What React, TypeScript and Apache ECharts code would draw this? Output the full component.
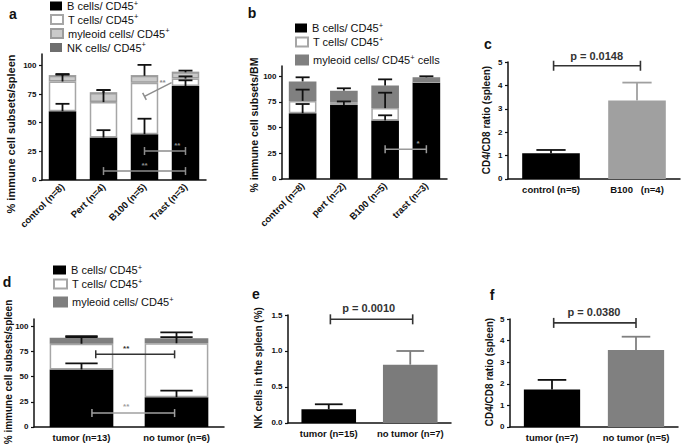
import React, { useEffect, useRef } from 'react';
import * as echarts from 'echarts';

const FONT = '"Liberation Sans", Arial, Helvetica, sans-serif';

// ---------- Panel a: spleen subsets (stacked) ----------
const aCats = ['control (n=8)', 'Pert (n=4)', 'B100 (n=5)', 'Trast (n=3)'];
const aB = [60, 37, 40, 82];
const aT = [26, 31, 45, 6.5];
const aMy = [5, 8, 6, 5.5];
const aNK = [0.5, 0.5, 0.5, 0.5];
const aErrB = [6.5, 6.5, 13.5, 5];
const aErrT = [6.5, 10.5, 0, 2];
const aErrMy = [1, 2.5, 9.5, 1.5];
const aTicks = [0, 25, 50, 75, 100];

// ---------- Panel b: BM subsets (stacked) ----------
const bCats = ['control (n=8)', 'pert (n=2)', 'B100 (n=5)', 'trast (n=3)'];
const bB = [64, 72, 57, 94];
const bT = [12, 2.5, 12, 0.5];
const bMy = [19, 11.5, 22, 4.5];
const bErrB = [9, 3.5, 5, 0];
const bErrT = [11, 0, 15, 0];
const bErrMy = [4, 2.3, 6, 1];
const bTicks = [0, 25, 50, 75, 100];

// ---------- Panel c: CD4/CD8 ratio ----------
const cCats = ['control (n=5)', 'B100   (n=4)'];
const cVals = [1.1, 3.35];
const cErr = [0.14, 0.77];
const cTicks = [0, 1, 2, 3, 4, 5];

// ---------- Panel d: tumor vs no tumor subsets (stacked) ----------
const dCats = ['tumor (n=13)', 'no tumor (n=6)'];
const dB = [57, 29.5];
const dT = [25.5, 53.5];
const dMy = [6, 5];
const dErrB = [6, 6.5];
const dErrT = [6.5, 6];
const dErrMy = [1.5, 5.8];
const dTicks = [0, 25, 50, 75, 100];

// ---------- Panel e: NK cells ----------
const eCats = ['tumor (n=15)', 'no tumor (n=7)'];
const eVals = [0.19, 0.81];
const eErr = [0.07, 0.19];
const eTicks = [0, 0.5, 1, 1.5];

// ---------- Panel f: CD4/CD8 ratio tumor ----------
const fCats = ['tumor (n=7)', 'no tumor (n=5)'];
const fVals = [1.73, 3.56];
const fErr = [0.45, 0.62];
const fTicks = [0, 1, 2, 3, 4, 5];

// significance annotations [x1, y1, x2, y2, textX, textY] (x in category units)
const aSig = [
  { pts: [1, 7.8, 3, 7.8, 2, 13], text: '**' },
  { pts: [2, 25.3, 3, 25.3, 2.8, 30.5], text: '**' },
  { pts: [2, 73, 2.66, 85, 2.44, 85.5], text: '**', start: true },
];
const bSig = [{ pts: [2, 29, 3, 29, 2.8, 35], text: '*' }];
const cSig = [{ pts: [0.03, 4.84, 1.04, 4.84, 0.53, 5.27], text: 'p = 0.0148' }];
const dSig = [
  { pts: [0.15, 72, 0.98, 72, 0.47, 78], text: '**' },
  { pts: [0.11, 13.8, 0.98, 13.8, 0.47, 20], text: '**' },
];
const eSig = [{ pts: [0.02, 1.44, 1.03, 1.44, 0.49, 1.595], text: 'p = 0.0010' }];
const fSig = [{ pts: [0.02, 4.82, 1.0, 4.82, 0.5, 5.33], text: 'p = 0.0380' }];

const LEG: Record<string, [string, string]> = {
  aB: ['B cells/ CD45', ''],
  aT: ['T cells/ CD45', ''],
  aMy: ['myleoid cells/ CD45', ''],
  aNK: ['NK cells/ CD45', ''],
  bB: ['B cells/ CD45', ''],
  bT: ['T cells/ CD45', ''],
  bMy: ['myleoid cells/ CD45', ' cells'],
  dB: ['B cells/ CD45', ''],
  dT: ['T cells/ CD45', ''],
  dMy: ['myleoid cells/ CD45', ''],
};

const INK = '#111';

function catAxis(k: number, data: string[], rotate: number) {
  return {
    type: 'category', gridIndex: k, data,
    axisLine: { onZero: false, lineStyle: { color: INK, width: 1.5 } },
    axisTick: { alignWithLabel: true, length: 3, lineStyle: { color: INK, width: 1.2 } },
    axisLabel: {
      rotate, interval: 0, margin: 5, fontSize: 9.5, fontWeight: 'bold',
      fontFamily: FONT, color: INK,
    },
  };
}
function valAxis(k: number, max: number, ticks: number[]) {
  return {
    type: 'value', gridIndex: k, min: -max * 1e-4, max,
    axisLine: { show: true, onZero: false, lineStyle: { color: INK, width: 1.5 } },
    axisTick: { show: true, length: 3, customValues: ticks, lineStyle: { color: INK, width: 1.2 } },
    axisLabel: { show: false },
    splitLine: { show: false },
  };
}

type Err = { x: number; base: number; top: number; color: string };

function stackErr(segs: number[][], errs: number[][], color: string) {
  const out: Err[] = [];
  const n = segs[0].length;
  for (let i = 0; i < n; i++) {
    let top = 0;
    segs.forEach((s, j) => {
      top += s[i];
      const e = errs[j] ? errs[j][i] : 0;
      if (e > 0) out.push({ x: i, base: top, top: top + e, color });
    });
  }
  return out;
}

// map fractional category position + value to pixels via the axes' own scales
function P(api: any, x: number, y: number) {
  const a = api.coord([0, y]);
  const b = api.coord([1, y]);
  return [a[0] + (b[0] - a[0]) * x, a[1]];
}

// y tick labels, placed through the y axis scale
function tickLabels(k: number, ticks: number[], fmt?: (v: number) => string) {
  return {
    type: 'custom', coordinateSystem: 'cartesian2d', xAxisIndex: k, yAxisIndex: k,
    z: 7, silent: true, clip: false,
    encode: { x: 0, y: 1 },
    data: ticks.map((t) => [0, t]),
    renderItem: (params: any, api: any) => {
      const v = ticks[params.dataIndex];
      const p = P(api, -0.5, v);
      return {
        type: 'text', x: p[0] - 5.5, y: p[1],
        style: {
          text: fmt ? fmt(v) : String(v), fill: INK, font: `bold 8px ${FONT}`,
          align: 'right', verticalAlign: 'middle', textAlign: 'right', textVerticalAlign: 'middle',
        },
      };
    },
  };
}

function errSeries(k: number, items: Err[], lw = 1.8) {
  return {
    type: 'custom', coordinateSystem: 'cartesian2d', xAxisIndex: k, yAxisIndex: k,
    z: 8, silent: true, clip: false,
    encode: { x: 0, y: 1 },
    data: items.map((it) => [it.x, it.base]),
    renderItem: (params: any, api: any) => {
      const it = items[params.dataIndex];
      const p0 = P(api, it.x, it.base);
      const p1 = P(api, it.x, it.top);
      const half = api.size([1, 0])[0] * 0.17;
      return {
        type: 'group',
        children: [
          {
            type: 'line',
            shape: { x1: p0[0], y1: p0[1], x2: p1[0], y2: p1[1] },
            style: { stroke: it.color, lineWidth: lw, fill: null },
          },
          {
            type: 'line',
            shape: { x1: p1[0] - half, y1: p1[1], x2: p1[0] + half, y2: p1[1] },
            style: { stroke: it.color, lineWidth: lw, fill: null },
          },
        ],
      };
    },
  };
}

function sigSeries(k: number, sigs: any[], color: string | string[], font: string, capPx: number, lw = 1.5) {
  return {
    type: 'custom', coordinateSystem: 'cartesian2d', xAxisIndex: k, yAxisIndex: k,
    z: 9, silent: true, clip: false,
    encode: { x: 0, y: 1 },
    data: sigs.map((s) => [Math.round(s.pts[0]), s.pts[1]]),
    renderItem: (params: any, api: any) => {
      const s = sigs[params.dataIndex];
      const c = Array.isArray(color) ? color[params.dataIndex] : color;
      const [x1, y1, x2, y2, tx, ty] = s.pts;
      const p1 = P(api, x1, y1);
      const p2 = P(api, x2, y2);
      const pt = P(api, tx, ty);
      const dx = p2[0] - p1[0];
      const dy = p2[1] - p1[1];
      const L = Math.hypot(dx, dy) || 1;
      const nx = (-dy / L) * capPx;
      const ny = (dx / L) * capPx;
      const mk = (a: number[], b: number[]) => ({
        type: 'line',
        shape: { x1: a[0], y1: a[1], x2: b[0], y2: b[1] },
        style: { stroke: c, lineWidth: lw, fill: null },
      });
      const ch: any[] = [
        mk(p1, p2),
        mk([p1[0] + nx, p1[1] + ny], [p1[0] - nx, p1[1] - ny]),
      ];
      if (!s.start) ch.push(mk([p2[0] + nx, p2[1] + ny], [p2[0] - nx, p2[1] - ny]));
      ch.push({
        type: 'text', x: pt[0], y: pt[1],
        style: {
          text: s.text, fill: c, font, align: 'center', verticalAlign: 'middle',
          textAlign: 'center', textVerticalAlign: 'middle',
        },
      });
      return { type: 'group', children: ch };
    },
  };
}

function leg(name: string, left: number, cy: number, w: number, h: number) {
  return {
    left, top: cy - 7, orient: 'vertical', itemWidth: w, itemHeight: h, itemGap: 0,
    selectedMode: false, icon: 'rect', data: [name], padding: 0,
    formatter: (n: string) => `{t|${LEG[n][0]}}{s|+}{t|${LEG[n][1]}}`,
    textStyle: {
      fontFamily: FONT, fontSize: 11, color: INK, lineHeight: 14,
      rich: {
        t: { fontFamily: FONT, fontSize: 11, color: INK, lineHeight: 14 },
        s: { fontFamily: FONT, fontSize: 7.5, color: INK, lineHeight: 8, verticalAlign: 'top' },
      },
    },
  };
}

function stackBar(k: number, name: string, data: number[], color: string, border?: string) {
  return {
    type: 'bar', name, stack: 'st' + k, xAxisIndex: k, yAxisIndex: k, data,
    barWidth: '67%',
    itemStyle: { color, borderColor: border || color, borderWidth: border ? 1.5 : 0 },
  };
}
function simpleBar(k: number, vals: number[], colors: string[]) {
  return {
    type: 'bar', xAxisIndex: k, yAxisIndex: k, barWidth: '67%',
    data: vals.map((v, i) => ({ value: v, itemStyle: { color: colors[i] } })),
  };
}

function yTitle(text: string, x: number, y: number, size: number) {
  return {
    type: 'text', x, y, rotation: Math.PI / 2,
    style: {
      text, font: `bold ${size}px ${FONT}`, fill: INK,
      align: 'center', verticalAlign: 'middle', textAlign: 'center', textVerticalAlign: 'middle',
    },
  };
}
function letter(text: string, x: number, y: number) {
  return {
    type: 'text', x, y,
    style: {
      text, font: `bold 14px ${FONT}`, fill: INK,
      align: 'center', verticalAlign: 'middle', textAlign: 'center', textVerticalAlign: 'middle',
    },
  };
}

export default function App() {
  const ref = useRef<HTMLDivElement>(null);
  useEffect(() => {
    if (!ref.current) return;
    const chart = echarts.init(ref.current, null, { renderer: 'svg' });
    const grids = [
      { left: 42, top: 54, width: 164, height: 126 },
      { left: 282, top: 66, width: 165, height: 113 },
      { left: 508, top: 62, width: 172, height: 117 },
      { left: 34, top: 319, width: 190, height: 108 },
      { left: 288, top: 315, width: 163, height: 108 },
      { left: 510, top: 319, width: 168, height: 108 },
    ].map((g) => ({ ...g, containLabel: false, outerBoundsMode: 'none' }));

    const gray = '#a6a6a6';
    const pFont = `bold 11px ${FONT}`;
    const starFont = `bold 8px ${FONT}`;

    const option: any = {
      animation: false,
      backgroundColor: '#fff',
      grid: grids,
      xAxis: [
        catAxis(0, aCats, 45),
        catAxis(1, bCats, 45),
        catAxis(2, cCats, 0),
        catAxis(3, dCats, 0),
        catAxis(4, eCats, 0),
        catAxis(5, fCats, 0),
      ],
      yAxis: [
        valAxis(0, 110, aTicks),
        valAxis(1, 110, bTicks),
        valAxis(2, 5, cTicks),
        valAxis(3, 107, dTicks),
        valAxis(4, 1.5, eTicks),
        valAxis(5, 5, fTicks),
      ],
      legend: [
        leg('aB', 50, 6, 12, 9),
        leg('aT', 50, 19.5, 12, 9),
        leg('aMy', 50, 33.5, 12, 9),
        leg('aNK', 50, 47.5, 12, 9),
        leg('bB', 295, 28, 12, 9),
        leg('bT', 295, 42, 12, 9),
        leg('bMy', 295, 60, 12, 9),
        leg('dB', 53, 270, 13, 9),
        leg('dT', 53, 284, 13, 9),
        leg('dMy', 53, 302, 13, 9),
      ],
      series: [
        stackBar(0, 'aB', aB, '#000'),
        stackBar(0, 'aT', aT, '#fff', gray),
        stackBar(0, 'aMy', aMy, '#cacaca', '#9c9c9c'),
        stackBar(0, 'aNK', aNK, '#6e6e6e'),
        errSeries(0, stackErr([aB, aT, aMy], [aErrB, aErrT, aErrMy], INK)),
        sigSeries(0, aSig, '#8c8c8c', starFont, 4, 1.5),
        tickLabels(0, aTicks),

        stackBar(1, 'bB', bB, '#000'),
        stackBar(1, 'bT', bT, '#fff', gray),
        stackBar(1, 'bMy', bMy, '#808080', '#808080'),
        errSeries(1, stackErr([bB, bT, bMy], [bErrB, bErrT, bErrMy], INK)),
        sigSeries(1, bSig, '#9a9a9a', starFont, 4, 1.5),
        tickLabels(1, bTicks),

        simpleBar(2, cVals, ['#000', '#a0a0a0']),
        errSeries(2, cVals.map((v, i) => ({ x: i, base: v, top: v + cErr[i], color: i ? '#a0a0a0' : INK }))),
        sigSeries(2, cSig, '#333', pFont, 5, 1.6),
        tickLabels(2, cTicks),

        stackBar(3, 'dB', dB, '#000'),
        stackBar(3, 'dT', dT, '#fff', gray),
        stackBar(3, 'dMy', dMy, '#7f7f7f', '#7f7f7f'),
        errSeries(3, stackErr([dB, dT, dMy], [dErrB, dErrT, dErrMy], INK)),
        sigSeries(3, dSig, ['#333', '#a0a0a0'], starFont, 4, 1.5),
        tickLabels(3, dTicks),

        simpleBar(4, eVals, ['#000', '#7b7b7b']),
        errSeries(4, eVals.map((v, i) => ({ x: i, base: v, top: v + eErr[i], color: i ? '#7b7b7b' : INK }))),
        sigSeries(4, eSig, '#333', pFont, 5, 1.6),
        tickLabels(4, eTicks, (v: number) => v.toFixed(1)),

        simpleBar(5, fVals, ['#000', '#808080']),
        errSeries(5, fVals.map((v, i) => ({ x: i, base: v, top: v + fErr[i], color: i ? '#808080' : INK }))),
        sigSeries(5, fSig, '#333', pFont, 5, 1.6),
        tickLabels(5, fTicks),
      ],
      graphic: [
        letter('a', 13, 14),
        letter('b', 252, 13),
        letter('c', 488, 44),
        letter('d', 7, 282),
        letter('e', 256, 294),
        letter('f', 492, 295),
        yTitle('% immune cell subsets/spleen', 11, 134, 11),
        yTitle('% immune cell subsets/BM', 254, 125, 10.5),
        yTitle('CD4/CD8 ratio (spleen)', 486, 120, 10),
        yTitle('% immune cell subsets/spleen', 8, 372, 10),
        yTitle('NK cells in the spleen (%)', 258, 368, 10),
        yTitle('CD4/CD8 ratio (spleen)', 489, 372, 10),
      ],
    };
    chart.setOption(option);
    return () => chart.dispose();
  }, []);
  return (
    <div
      ref={ref}
      style={{ position: 'absolute', left: 0, top: 0, width: 685, height: 447, background: '#fff' }}
    />
  );
}
